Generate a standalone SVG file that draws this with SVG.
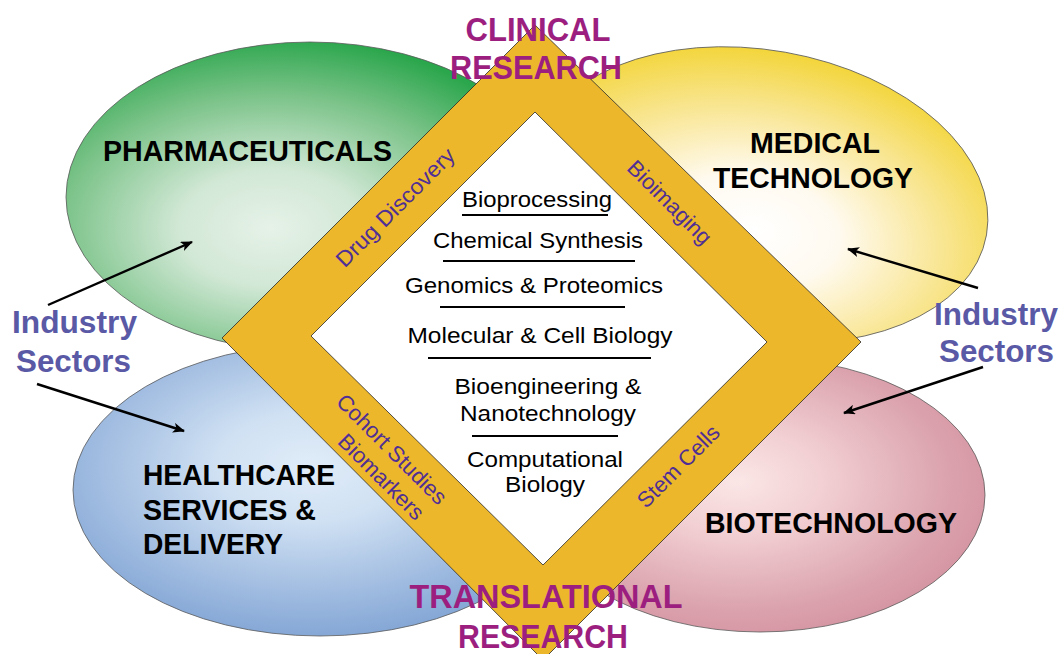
<svg xmlns="http://www.w3.org/2000/svg" width="1061" height="654" viewBox="0 0 1061 654">
<defs>
<radialGradient id="gGreen" cx="0.42" cy="0.6" r="0.62">
<stop offset="0" stop-color="#e6f2e8"/><stop offset="0.3" stop-color="#d2e8d6"/><stop offset="0.7" stop-color="#79c287"/><stop offset="1" stop-color="#2aa64c"/>
</radialGradient>
<radialGradient id="gYellow" cx="0.5" cy="0.62" r="0.62">
<stop offset="0" stop-color="#ffffff"/><stop offset="0.3" stop-color="#fffaf0"/><stop offset="0.7" stop-color="#f8e48a"/><stop offset="1" stop-color="#f3d53a"/>
</radialGradient>
<radialGradient id="gBlue" cx="0.48" cy="0.42" r="0.62">
<stop offset="0" stop-color="#e0ecf8"/><stop offset="0.3" stop-color="#d0e1f3"/><stop offset="0.75" stop-color="#9ab7de"/><stop offset="1" stop-color="#7ea2d3"/>
</radialGradient>
<radialGradient id="gPink" cx="0.45" cy="0.45" r="0.62">
<stop offset="0" stop-color="#fbe6e6"/><stop offset="0.3" stop-color="#f2d0d3"/><stop offset="0.75" stop-color="#dba3ae"/><stop offset="1" stop-color="#d3909e"/>
</radialGradient>
<marker id="arr" viewBox="0 0 12 10" refX="11" refY="5" markerWidth="12" markerHeight="10" markerUnits="userSpaceOnUse" orient="auto">
<path d="M0,0 L12,5 L0,10 L3,5 Z" fill="#000"/>
</marker>
<style>
.ell{stroke:#5a5a5a;stroke-width:0.8}
.sector{font-family:"Liberation Sans",Arial,sans-serif;font-weight:bold;font-size:29px;fill:#000}
.research{font-family:"Liberation Sans",Arial,sans-serif;font-weight:bold;font-size:33px;fill:#9c1f80;text-anchor:middle}
.industry{font-family:"Liberation Sans",Arial,sans-serif;font-weight:bold;font-size:32px;fill:#5a59a6}
.band{font-family:"Liberation Sans",Arial,sans-serif;font-size:22px;fill:#4f2f95;text-anchor:middle}
.inner{font-family:"Liberation Sans",Arial,sans-serif;font-size:22px;fill:#000;text-anchor:middle}
.rule{stroke:#000;stroke-width:1.8}
.conn{stroke:#000;stroke-width:2.4;fill:none;marker-end:url(#arr)}
</style>
</defs>
<rect width="1061" height="654" fill="#fff"/>

<g id="pharmaceuticals">
<ellipse class="ell" cx="310" cy="197" rx="244" ry="155" fill="url(#gGreen)"/>
<text class="sector" x="103" y="161" textLength="289" lengthAdjust="spacingAndGlyphs">PHARMACEUTICALS</text>
</g>
<g id="medical-technology">
<ellipse class="ell" cx="760" cy="195" rx="230" ry="145" transform="rotate(10 760 195)" fill="url(#gYellow)"/>
<text class="sector" x="750" y="153" textLength="130" lengthAdjust="spacingAndGlyphs">MEDICAL</text>
<text class="sector" x="713" y="188" textLength="200" lengthAdjust="spacingAndGlyphs">TECHNOLOGY</text>
</g>
<g id="healthcare">
<ellipse class="ell" cx="320" cy="490" rx="247" ry="146" fill="url(#gBlue)"/>
<text class="sector" x="143" y="485" textLength="192" lengthAdjust="spacingAndGlyphs">HEALTHCARE</text>
<text class="sector" x="143" y="520" textLength="173" lengthAdjust="spacingAndGlyphs">SERVICES &amp;</text>
<text class="sector" x="143" y="554" textLength="140" lengthAdjust="spacingAndGlyphs">DELIVERY</text>
</g>
<g id="biotechnology">
<ellipse class="ell" cx="760" cy="495" rx="225" ry="137" fill="url(#gPink)"/>
<text class="sector" x="705" y="533" textLength="252" lengthAdjust="spacingAndGlyphs">BIOTECHNOLOGY</text>
</g>

<g id="research-diamond">
<polygon points="535,25 861,342 543,660 222,338" fill="#edb72b" stroke="#2a2a2a" stroke-width="0.8"/>
<polygon points="535,112 767,342 543,565 311,336" fill="#fff" stroke="#2a2a2a" stroke-width="0.8"/>
<text class="band" transform="translate(395,207) rotate(-45)" y="8" textLength="158" lengthAdjust="spacingAndGlyphs">Drug Discovery</text>
<text class="band" transform="translate(670,202) rotate(45)" y="8">Bioimaging</text>
<g transform="translate(386.5,463) rotate(45)">
<text class="band" x="-6" y="-6">Cohort Studies</text>
<text class="band" x="6" y="21">Biomarkers</text>
</g>
<text class="band" transform="translate(678,466) rotate(-45)" y="8">Stem Cells</text>
</g>

<g id="disciplines">
<text class="inner" x="537" y="207" textLength="150" lengthAdjust="spacingAndGlyphs">Bioprocessing</text>
<line class="rule" x1="462" y1="215" x2="608" y2="215"/>
<text class="inner" x="538" y="248" textLength="210" lengthAdjust="spacingAndGlyphs">Chemical Synthesis</text>
<line class="rule" x1="443" y1="261" x2="635" y2="261"/>
<text class="inner" x="534" y="293" textLength="258" lengthAdjust="spacingAndGlyphs">Genomics &amp; Proteomics</text>
<line class="rule" x1="440" y1="307" x2="625" y2="307"/>
<text class="inner" x="540" y="343" textLength="265" lengthAdjust="spacingAndGlyphs">Molecular &amp; Cell Biology</text>
<line class="rule" x1="428" y1="358" x2="651" y2="358"/>
<text class="inner" x="548" y="394" textLength="187" lengthAdjust="spacingAndGlyphs">Bioengineering &amp;</text>
<text class="inner" x="548" y="421" textLength="176" lengthAdjust="spacingAndGlyphs">Nanotechnology</text>
<line class="rule" x1="472" y1="436" x2="618" y2="436"/>
<text class="inner" x="545" y="467" textLength="156" lengthAdjust="spacingAndGlyphs">Computational</text>
<text class="inner" x="545" y="492" textLength="80" lengthAdjust="spacingAndGlyphs">Biology</text>
</g>

<g id="clinical-research">
<text class="research" x="538" y="41" textLength="145" lengthAdjust="spacingAndGlyphs">CLINICAL</text>
<text class="research" x="536" y="79" textLength="172" lengthAdjust="spacingAndGlyphs">RESEARCH</text>
</g>
<g id="translational-research">
<text class="research" x="546" y="608" textLength="273" lengthAdjust="spacingAndGlyphs">TRANSLATIONAL</text>
<text class="research" x="543" y="648" textLength="170" lengthAdjust="spacingAndGlyphs">RESEARCH</text>
</g>

<g id="industry-left">
<text class="industry" x="12" y="333" textLength="125" lengthAdjust="spacingAndGlyphs">Industry</text>
<text class="industry" x="16" y="372" textLength="115" lengthAdjust="spacingAndGlyphs">Sectors</text>
</g>
<g id="industry-right">
<text class="industry" x="934" y="325" textLength="124" lengthAdjust="spacingAndGlyphs">Industry</text>
<text class="industry" x="939" y="362" textLength="115" lengthAdjust="spacingAndGlyphs">Sectors</text>
</g>

<g id="connectors">
<line class="conn" x1="48" y1="305" x2="192" y2="242"/>
<line class="conn" x1="37" y1="384" x2="184" y2="431"/>
<line class="conn" x1="978" y1="288" x2="848" y2="249"/>
<line class="conn" x1="983" y1="367" x2="844" y2="413"/>
</g>
</svg>
